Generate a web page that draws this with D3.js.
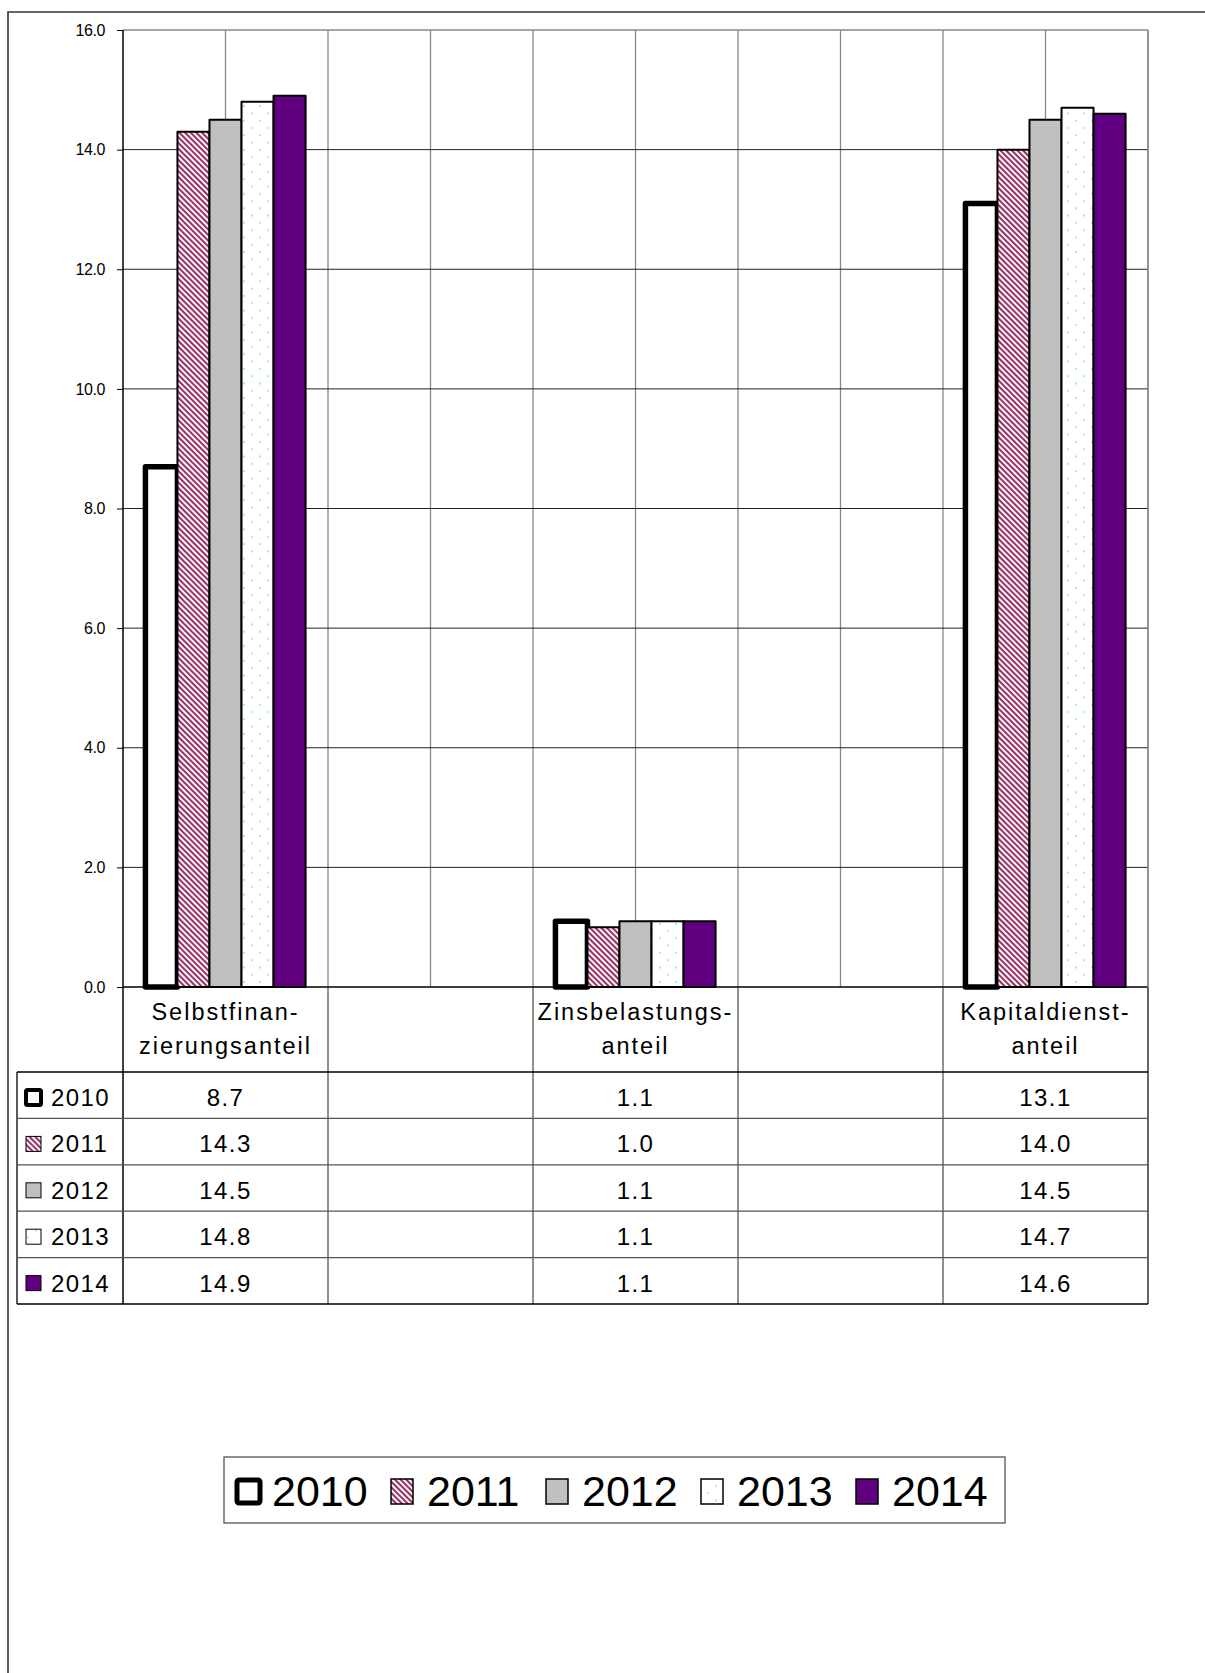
<!DOCTYPE html>
<html><head><meta charset="utf-8">
<script src="https://cdn.jsdelivr.net/npm/d3@7"></script>
<style>
body{margin:0;background:#fff}
svg{display:block}
text{font-family:"Liberation Sans",Arial,Helvetica,sans-serif;fill:#000}
</style>
</head><body>
<svg id="c" width="1205" height="1673"></svg>
<script>
// ---- data ----
const categoryKeys = ["c0", "c1", "c2", "c3", "c4"];
const categoryLines = [["Selbstfinan-", "zierungsanteil"], [], ["Zinsbelastungs-", "anteil"], [], ["Kapitaldienst-", "anteil"]];
const years = ["2010", "2011", "2012", "2013", "2014"];
const values2010 = [8.7, null, 1.1, null, 13.1];
const values2011 = [14.3, null, 1.0, null, 14.0];
const values2012 = [14.5, null, 1.1, null, 14.5];
const values2013 = [14.8, null, 1.1, null, 14.7];
const values2014 = [14.9, null, 1.1, null, 14.6];
const yTicks = [0, 2, 4, 6, 8, 10, 12, 14, 16];

const seriesValues = [values2010, values2011, values2012, values2013, values2014];

const svg = d3.select("#c");
const L = 123, R = 1148, T = 30, B = 987;
const tableBottom = 1304, headerBottom = 1072, tableLeft = 17;

// patterns
const defs = svg.append("defs");
const stripe = defs.append("pattern").attr("id", "p2011").attr("patternUnits", "userSpaceOnUse")
  .attr("width", 4).attr("height", 4).attr("patternTransform", "rotate(-45)");
stripe.append("rect").attr("width", 4).attr("height", 4).attr("fill", "#fff");
stripe.append("rect").attr("width", 2.1).attr("height", 4).attr("fill", "#993366");
const dots = defs.append("pattern").attr("id", "p2013").attr("patternUnits", "userSpaceOnUse")
  .attr("width", 16).attr("height", 14.6);
dots.append("rect").attr("width", 16).attr("height", 14.6).attr("fill", "#fff");
dots.append("rect").attr("x", 3).attr("y", 3).attr("width", 1.8).attr("height", 1.8).attr("fill", "#9fe0e0");
dots.append("rect").attr("x", 11).attr("y", 10.3).attr("width", 1.8).attr("height", 1.8).attr("fill", "#9fe0e0");

const fills = {"2010": "#fff", "2011": "url(#p2011)", "2012": "#c0c0c0", "2013": "url(#p2013)", "2014": "#600080"};
const strokeW = {"2010": 5.5, "2011": 2, "2012": 2, "2013": 2, "2014": 2};

// outer frame
svg.append("path").attr("d", `M8,1680 L8,12 L1210,12`).attr("fill", "none").attr("stroke", "#333").attr("stroke-width", 1.6);

// scales
const x0 = d3.scaleBand().domain(categoryKeys).range([L, R]).padding(0);
const bw = x0.bandwidth();
const x1 = d3.scaleBand().domain(years).range([0, bw]).paddingInner(0).paddingOuter(0.7);
const y = d3.scaleLinear().domain([0, 16]).range([B, T]);

// vertical gridlines (category boundaries and centers)
const vx = [];
categoryKeys.forEach(k => { vx.push(x0(k)); vx.push(x0(k) + bw / 2); });
vx.push(R);
svg.append("g").selectAll("line").data(vx.slice(1)).join("line")
  .attr("x1", d => d).attr("x2", d => d).attr("y1", T).attr("y2", B)
  .attr("stroke", "#888").attr("stroke-width", 1.3);
// horizontal gridlines
svg.append("g").selectAll("line").data(yTicks.slice(1, -1)).join("line")
  .attr("x1", L).attr("x2", R).attr("y1", d => y(d)).attr("y2", d => y(d))
  .attr("stroke", "#222").attr("stroke-width", 1);
svg.append("line").attr("x1", L).attr("x2", R).attr("y1", T).attr("y2", T).attr("stroke", "#888").attr("stroke-width", 1.5);

// bars
const barG = svg.append("g");
years.forEach((yr, si) => {
  const data = seriesValues[si].map((v, ci) => ({k: categoryKeys[ci], v})).filter(d => d.v != null);
  barG.append("g").selectAll("rect").data(data).join("rect")
    .attr("x", d => x0(d.k) + x1(yr))
    .attr("y", d => y(d.v))
    .attr("width", x1.bandwidth())
    .attr("height", d => y(0) - y(d.v))
    .attr("fill", fills[yr])
    .attr("stroke", "#000")
    .attr("stroke-width", strokeW[yr])
    .attr("stroke-linejoin", "round");
});

// y axis
const yAxis = d3.axisLeft(y).tickValues(yTicks).tickFormat(d3.format(".1f")).tickSize(6).tickPadding(12);
const ag = svg.append("g").attr("transform", `translate(${L},0)`).call(yAxis);
ag.select(".domain").remove();
ag.selectAll(".tick line").attr("stroke", "#000");
ag.selectAll(".tick text").attr("font-size", 16).attr("letter-spacing", "-0.4px")
  .attr("font-family", "Liberation Sans, Arial, sans-serif").attr("fill", "#000");

// axis lines
svg.append("line").attr("x1", L).attr("x2", L).attr("y1", T).attr("y2", tableBottom).attr("stroke", "#000").attr("stroke-width", 1.5);
svg.append("line").attr("x1", L).attr("x2", R).attr("y1", B).attr("y2", B).attr("stroke", "#000").attr("stroke-width", 1.5);

// table
const rowY = d3.scaleBand().domain(years).range([headerBottom, tableBottom]);
const tg = svg.append("g");
categoryKeys.slice(1).forEach(k => {
  tg.append("line").attr("x1", x0(k)).attr("x2", x0(k)).attr("y1", B).attr("y2", tableBottom).attr("stroke", "#222").attr("stroke-width", 1);
});
tg.append("line").attr("x1", R).attr("x2", R).attr("y1", T).attr("y2", tableBottom).attr("stroke", "#888").attr("stroke-width", 1.5);
tg.append("line").attr("x1", R).attr("x2", R).attr("y1", B).attr("y2", tableBottom).attr("stroke", "#222").attr("stroke-width", 1);
tg.append("line").attr("x1", tableLeft).attr("x2", tableLeft).attr("y1", headerBottom).attr("y2", tableBottom).attr("stroke", "#000").attr("stroke-width", 1.3);
years.forEach((yr, i) => {
  tg.append("line").attr("x1", tableLeft).attr("x2", R).attr("y1", rowY(yr)).attr("y2", rowY(yr))
    .attr("stroke", i === 0 ? "#000" : "#555").attr("stroke-width", i === 0 ? 1.5 : 1.2);
});
tg.append("line").attr("x1", tableLeft).attr("x2", R).attr("y1", tableBottom).attr("y2", tableBottom).attr("stroke", "#000").attr("stroke-width", 1.5);

// category labels
categoryKeys.forEach((k, ci) => {
  categoryLines[ci].forEach((ln, li) => {
    tg.append("text").attr("x", x0(k) + bw / 2).attr("y", B + 33 + li * 34)
      .attr("text-anchor", "middle").attr("font-size", 23.5).attr("letter-spacing", "2px").text(ln);
  });
});

// row headers + values
years.forEach((yr, si) => {
  const ry = rowY(yr);
  const sw = strokeW[yr] > 3 ? 4 : 1;
  tg.append("rect").attr("x", 26).attr("y", ry + 18).attr("width", 15).attr("height", 15)
    .attr("fill", fills[yr]).attr("stroke", "#000").attr("stroke-width", sw).attr("rx", sw > 1 ? 1.5 : 0);
  tg.append("text").attr("x", 51).attr("y", ry + 34).attr("font-size", 24).attr("letter-spacing", "1.4px").text(yr);
  seriesValues[si].forEach((v, ci) => {
    if (v == null) return;
    tg.append("text").attr("x", x0(categoryKeys[ci]) + bw / 2).attr("y", ry + 34)
      .attr("text-anchor", "middle").attr("font-size", 24).attr("letter-spacing", "1.4px").text(d3.format(".1f")(v));
  });
});

// legend
const lg = svg.append("g");
lg.append("rect").attr("x", 224).attr("y", 1457).attr("width", 781).attr("height", 66)
  .attr("fill", "#fff").attr("stroke", "#555").attr("stroke-width", 1.3);
const legendX = d3.scalePoint().domain(years).range([236, 856]);
years.forEach(yr => {
  const lx = legendX(yr);
  const thick = strokeW[yr] > 3;
  lg.append("rect").attr("x", thick ? lx + 1 : lx).attr("y", thick ? 1480 : 1479)
    .attr("width", thick ? 23 : 22).attr("height", thick ? 23 : 25)
    .attr("fill", fills[yr]).attr("stroke", "#000").attr("stroke-width", thick ? 5 : 1.5).attr("rx", thick ? 2 : 0);
  lg.append("text").attr("x", lx + 36).attr("y", 1506).attr("font-size", 43).text(yr);
});
</script>
</body></html>
